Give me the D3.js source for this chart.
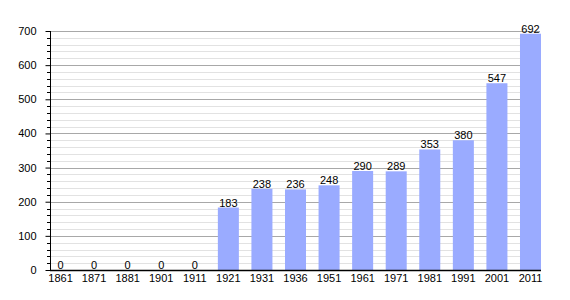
<!DOCTYPE html>
<html><head><meta charset="utf-8">
<script src="https://cdn.jsdelivr.net/npm/d3@7"></script>
<style>body{margin:0;background:#fff}svg{display:block}text{font-family:"Liberation Sans",Arial,sans-serif;font-size:11px;fill:#000}</style>
</head><body>
<svg id="c" width="570" height="300"></svg>
<script>
const years = ["1861","1871","1881","1901","1911","1921","1931","1936","1951","1961","1971","1981","1991","2001","2011"];
const population = [0,0,0,0,0,183,238,236,248,290,289,353,380,547,692];
const yTicks = [0,100,200,300,400,500,600,700];

(function(){
const svg = d3.select("#c");
const left = 50, right = 541, topY = 31, bottom = 270;
const fs = "11px";
const x = d3.scaleBand().domain(years).range([left, right]).paddingInner(0.374).paddingOuter(0).align(0);
const y = d3.scaleLinear().domain([0, 700]).range([bottom, topY]);

const minor = d3.range(0, 701, 20).filter(v => v % 100 !== 0);
svg.append("g").selectAll("line").data(minor).join("line")
  .attr("x1", left).attr("x2", 540).attr("y1", d => Math.round(y(d)) + 0.5).attr("y2", d => Math.round(y(d)) + 0.5)
  .attr("stroke", "#e2e2e2").attr("stroke-width", 1);
svg.append("g").selectAll("line").data(yTicks.filter(v => v > 0)).join("line")
  .attr("x1", left).attr("x2", 540).attr("y1", d => Math.round(y(d)) + 0.5).attr("y2", d => Math.round(y(d)) + 0.5)
  .attr("stroke", "#a8a8a8").attr("stroke-width", 1);

svg.append("g").selectAll("rect").data(population).join("rect")
  .attr("x", (d, i) => x(years[i])).attr("width", x.bandwidth())
  .attr("y", d => y(d)).attr("height", d => bottom - y(d))
  .attr("fill", "#9aabff");

svg.append("g").selectAll("text").data(population).join("text")
  .attr("x", (d, i) => x(years[i]) + x.bandwidth() / 2).attr("y", d => y(d) - 1)
  .attr("text-anchor", "middle").style("font-size", fs).text(d => d);

// y axis
const ya = svg.append("g").attr("transform", `translate(${left + 0.5},0)`)
  .call(d3.axisLeft(y).tickValues(yTicks).tickSize(5).tickPadding(9));
ya.select(".domain").remove();
ya.selectAll("text").style("font-size", fs).style("font-family", "Liberation Sans, Arial, sans-serif").attr("fill", "#000");
ya.selectAll("line").attr("stroke", "#000");
svg.append("g").selectAll("line").data(minor).join("line")
  .attr("x1", left - 3).attr("x2", left).attr("y1", d => Math.round(y(d)) + 0.5).attr("y2", d => Math.round(y(d)) + 0.5)
  .attr("stroke", "#000");
svg.append("line").attr("x1", left + 0.5).attr("x2", left + 0.5).attr("y1", topY).attr("y2", bottom).attr("stroke", "#000");

// x axis
const xa = svg.append("g").attr("transform", `translate(0,${bottom})`)
  .call(d3.axisBottom(x).tickSize(0).tickPadding(4));
xa.select(".domain").remove();
xa.selectAll("text").style("font-size", fs).style("font-family", "Liberation Sans, Arial, sans-serif").attr("fill", "#000");
svg.append("line").attr("x1", left).attr("x2", 541).attr("y1", bottom + 0.5).attr("y2", bottom + 0.5).attr("stroke", "#000").attr("stroke-width", 1.5);
})();
</script>
</body></html>
